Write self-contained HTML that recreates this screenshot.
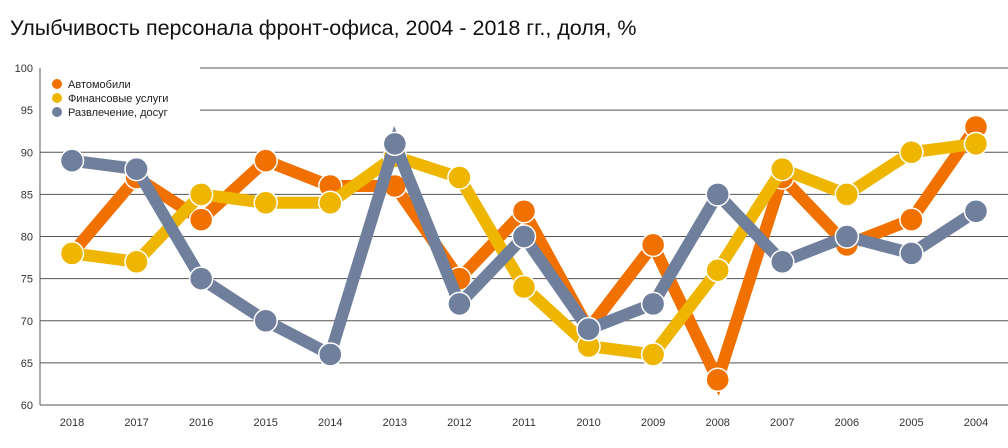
<!DOCTYPE html>
<html><head><meta charset="utf-8"><style>
body{margin:0;background:#fff;width:1008px;height:448px;overflow:hidden;font-family:"Liberation Sans",sans-serif}
#title{position:absolute;left:10px;top:16px;font-size:21.5px;color:#111}
svg{position:absolute;left:0;top:0}
</style></head><body>
<div id="title">Улыбчивость персонала фронт-офиса, 2004 - 2018 гг., доля, %</div>
<svg id="c" width="1008" height="448"></svg>
<script>
const years=["2018","2017","2016","2015","2014","2013","2012","2011","2010","2009","2008","2007","2006","2005","2004"];
const auto=[78,87,82,89,86,86,75,83,69,79,63,87,79,82,93];
const finance=[78,77,85,84,84,89.5,87,74,67,66,76,88,85,90,91];
const leisure=[89,88,75,70,66,91,72,80,69,72,85,77,80,78,83];
const yTicks=[60,65,70,75,80,85,90,95,100];
const seriesNames=["Автомобили","Финансовые услуги","Развлечение, досуг"];
const colors=["#f07000","#eeb600","#6f7f9c"];
const NS="http://www.w3.org/2000/svg";
const svg=document.getElementById('c');
const X=i=>72+i*64.57;
const Y=v=>405-(v-60)*8.425;
function mk(t,a,p){const e=document.createElementNS(NS,t);for(const k in a)e.setAttribute(k,a[k]);(p||svg).appendChild(e);return e;}
yTicks.forEach(v=>{
 const g=mk('line',{x1:v>=95?200:40,x2:1008,y1:Y(v),y2:Y(v),stroke:'#555','stroke-width':1});
 
 
 const t=mk('text',{x:33,y:Y(v)+4,'text-anchor':'end','font-size':11,fill:'#333'});t.textContent=v;
 
 
});
const ax=mk('line',{x1:40,x2:40,y1:Y(100),y2:Y(60),stroke:'#555'});


years.forEach((y,i)=>{const t=mk('text',{x:X(i),y:426,'text-anchor':'middle','font-size':11,fill:'#333'});t.textContent=y;
 
 });
[auto,finance,leisure].forEach((d,s)=>{
 const g=mk('g',{});
 
 
 const p=mk('polyline',{points:d.map((v,i)=>X(i)+','+Y(v)).join(' '),fill:'none',stroke:colors[s],'stroke-width':12,'stroke-linejoin':'miter'},g);
 
 
 d.forEach((v,i)=>{const c=mk('circle',{cx:X(i),cy:Y(v),r:11.5,fill:colors[s],stroke:'#fff','stroke-width':1.5},g);
  
  });
});
seriesNames.forEach((n,s)=>{
 const g=mk('g',{});
 
 
 mk('circle',{cx:57,cy:84+s*14,r:5,fill:colors[s]},g);
 const t=mk('text',{x:68,y:88+s*14,'font-size':11,fill:'#222'},g);t.textContent=n;
});
</script>
</body></html>
